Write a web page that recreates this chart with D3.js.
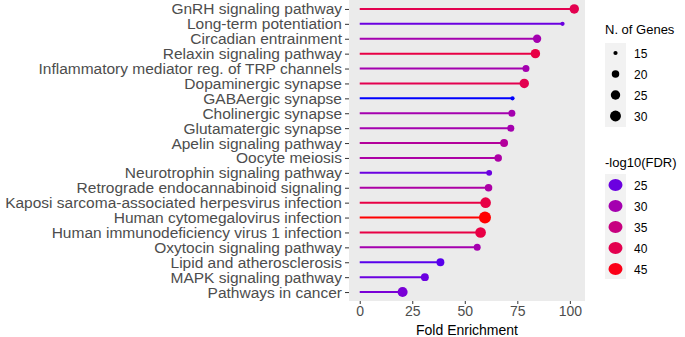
<!DOCTYPE html>
<html>
<head>
<meta charset="utf-8">
<script src="https://cdn.jsdelivr.net/npm/d3@7"></script>
<style>
  body { margin: 0; background: #fff; }
  text { font-family: "Liberation Sans", Arial, sans-serif; }
</style>
</head>
<body>
<div id="wrapper"></div>
<script>
// pathways, top to bottom
const pathways = [
    "GnRH signaling pathway",
    "Long-term potentiation",
    "Circadian entrainment",
    "Relaxin signaling pathway",
    "Inflammatory mediator reg. of TRP channels",
    "Dopaminergic synapse",
    "GABAergic synapse",
    "Cholinergic synapse",
    "Glutamatergic synapse",
    "Apelin signaling pathway",
    "Oocyte meiosis",
    "Neurotrophin signaling pathway",
    "Retrograde endocannabinoid signaling",
    "Kaposi sarcoma-associated herpesvirus infection",
    "Human cytomegalovirus infection",
    "Human immunodeficiency virus 1 infection",
    "Oxytocin signaling pathway",
    "Lipid and atherosclerosis",
    "MAPK signaling pathway",
    "Pathways in cancer"
]
const foldEnrichment = [102.1, 96.5, 84.4, 83.6, 79.1, 78.3, 72.7, 72.4, 71.9, 68.7,
                        65.9, 61.6, 61.3, 59.9, 59.6, 57.5, 55.9, 38.4, 31.0, 20.4]
const nGenes = [25, 15, 22, 25, 19, 25, 15, 19, 19, 21,
                20, 17, 20, 29, 34, 29, 19, 21, 21, 27]
const log10FDR = [40, 25, 30, 41, 30, 40, 22, 30, 30, 32,
                  31, 25, 31, 41, 46, 41, 30, 24, 25, 26]

const xTicks = [0, 25, 50, 75, 100]
const sizeBreaks = [15, 20, 25, 30]
const colorBreaks = [25, 30, 35, 40, 45]

const dataset = pathways.map((p, i) => ({
    pathway: p,
    fold: foldEnrichment[i],
    genes: nGenes[i],
    fdr: log10FDR[i]
}))

function draw() {
    const width = 685
    const height = 337
    const panel = { left: 349, right: 585, top: 0, bottom: 301 }
    const textGrey = "#4d4d4d"

    const svg = d3.select("#wrapper")
        .html("")
        .append("svg")
        .attr("width", width)
        .attr("height", height)

    // accessors
    const xAccessor = d => d.fold
    const yAccessor = d => d.pathway

    const xMax = d3.max(dataset, xAccessor)
    const pad = xMax * 0.05
    const xScaler = d3.scaleLinear()
        .domain([-pad, xMax + pad])
        .range([panel.left, panel.right])

    const yScaler = d3.scalePoint()
        .domain(pathways)
        .range([panel.top, panel.bottom])
        .padding(0.6)

    // ggplot-like area scale for size
    const sizeDomain = [14, 34]
    const rScale = g => 1 + 5 * Math.sqrt(Math.max(0, (g - sizeDomain[0]) / (sizeDomain[1] - sizeDomain[0])))

    const colorScale = d3.scaleLinear()
        .domain([22, 46])
        .range(["#0000ff", "#ff0000"])
        .interpolate(d3.interpolateLab)
        .clamp(true)

    // panel background
    svg.append("rect")
        .attr("x", panel.left)
        .attr("y", panel.top)
        .attr("width", panel.right - panel.left)
        .attr("height", panel.bottom - panel.top)
        .attr("fill", "#ebebeb")

    // axes
    const xAxisGen = d3.axisBottom(xScaler)
        .tickValues(xTicks)
        .tickSize(3)
        .tickPadding(2)
    const xAxis = svg.append("g")
        .attr("transform", `translate(0,${panel.bottom})`)
        .call(xAxisGen)
    xAxis.select(".domain").remove()
    xAxis.selectAll("line").attr("stroke", "#333").attr("stroke-width", 1)
    xAxis.selectAll("text")
        .attr("fill", textGrey)
        .attr("font-size", "14px")
        .style("font-family", "'Liberation Sans', Arial, sans-serif")

    const yAxisGen = d3.axisLeft(yScaler)
        .tickSize(4)
        .tickPadding(3)
    const yAxis = svg.append("g")
        .attr("transform", `translate(${panel.left},0)`)
        .call(yAxisGen)
    yAxis.select(".domain").remove()
    yAxis.selectAll("line").attr("stroke", "#333").attr("stroke-width", 1)
    yAxis.selectAll("text")
        .attr("fill", textGrey)
        .attr("font-size", "15.5px")
        .style("font-family", "'Liberation Sans', Arial, sans-serif")

    svg.append("text")
        .attr("x", (panel.left + panel.right) / 2)
        .attr("y", 335)
        .attr("text-anchor", "middle")
        .attr("font-size", "14px")
        .attr("fill", "#000")
        .text("Fold Enrichment")

    // lollipop sticks
    svg.append("g")
        .selectAll("line")
        .data(dataset)
        .enter()
        .append("line")
        .attr("x1", xScaler(0))
        .attr("x2", d => xScaler(xAccessor(d)))
        .attr("y1", d => yScaler(yAccessor(d)))
        .attr("y2", d => yScaler(yAccessor(d)))
        .attr("stroke", d => colorScale(d.fdr))
        .attr("stroke-width", 2)

    // heads
    svg.append("g")
        .selectAll("circle")
        .data(dataset)
        .enter()
        .append("circle")
        .attr("cx", d => xScaler(xAccessor(d)))
        .attr("cy", d => yScaler(yAccessor(d)))
        .attr("r", d => rScale(d.genes))
        .attr("fill", d => colorScale(d.fdr))

    // legend: N. of Genes
    const legX = 605
    svg.append("text")
        .attr("x", legX)
        .attr("y", 34)
        .attr("font-size", "13px")
        .attr("fill", "#000")
        .text("N. of Genes")

    const sizeLeg = svg.append("g")
    sizeLeg.append("rect")
        .attr("x", legX)
        .attr("y", 43)
        .attr("width", 21)
        .attr("height", sizeBreaks.length * 21)
        .attr("fill", "#f2f2f2")
    sizeBreaks.forEach((b, i) => {
        const cy = 53 + i * 21
        sizeLeg.append("circle")
            .attr("cx", legX + 10.5)
            .attr("cy", cy)
            .attr("r", rScale(b))
            .attr("fill", "#000")
        sizeLeg.append("text")
            .attr("x", legX + 29)
            .attr("y", cy + 4.5)
            .attr("font-size", "12px")
            .attr("fill", "#000")
            .text(b)
    })

    // legend: -log10(FDR)
    svg.append("text")
        .attr("x", legX)
        .attr("y", 167)
        .attr("font-size", "13px")
        .attr("fill", "#000")
        .text("-log10(FDR)")

    const colLeg = svg.append("g")
    colLeg.append("rect")
        .attr("x", legX)
        .attr("y", 174)
        .attr("width", 21)
        .attr("height", colorBreaks.length * 21)
        .attr("fill", "#f2f2f2")
    colorBreaks.forEach((b, i) => {
        const cy = 185 + i * 21
        colLeg.append("ellipse")
            .attr("cx", legX + 10.5)
            .attr("cy", cy)
            .attr("rx", 7)
            .attr("ry", 6)
            .attr("fill", colorScale(b))
        colLeg.append("text")
            .attr("x", legX + 29)
            .attr("y", cy + 4.5)
            .attr("font-size", "12px")
            .attr("fill", "#000")
            .text(b)
    })
}

draw()
</script>
</body>
</html>
